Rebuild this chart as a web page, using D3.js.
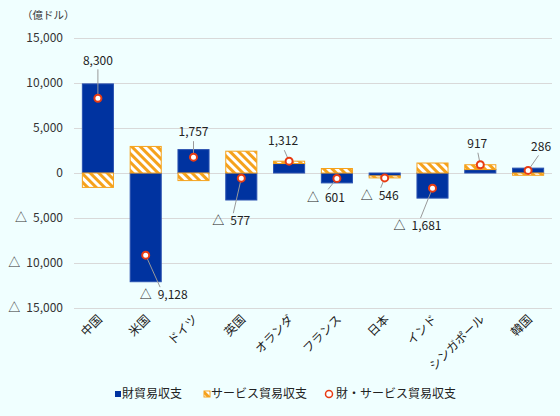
<!DOCTYPE html>
<html>
<head>
<meta charset="utf-8">
<script src="https://cdn.jsdelivr.net/npm/d3@7"></script>
<style>
  body { margin: 0; background: #f0ffff; }
  svg { display: block; font-family: "Noto Sans CJK JP", sans-serif; }
</style>
</head>
<body>
<div id="chart"></div>
<script>
// categories and values (億ドル)
const countries = ["中国", "米国", "ドイツ", "英国", "オランダ", "フランス", "日本", "インド", "シンガポール", "韓国"];
const goods    = [9900, -12080, 2600, -3000, 1050, -1100, -320, -2790, 380, 540];
const services = [-1600, 2952, -843, 2423, 262, 499, -226, 1109, 537, -254];
const totals   = [8300, -9128, 1757, -577, 1312, -601, -546, -1681, 917, 286];
const yTicks   = [15000, 10000, 5000, 0, -5000, -10000, -15000];

// label offsets from the dot (px), just layout
const labelOffsets = [[0, -38], [18, 40], [0, -25], [-10, 43], [-6, -20], [-11, 19], [-5, 18], [-15, 38], [-3, -21], [13, -24]];

const W = 560, H = 416;
const margin = { top: 38, right: 8, bottom: 108, left: 74 };

// negatives shown with a triangle, japanese style
const fmt = v => v < 0 ? "△\u2002" + d3.format(",")(-v) : d3.format(",")(v);

const svg = d3.select("#chart").append("svg")
  .attr("width", W).attr("height", H);

// hatch pattern for services
const defs = svg.append("defs");
const pat = defs.append("pattern")
  .attr("id", "hatch")
  .attr("patternUnits", "userSpaceOnUse")
  .attr("width", 6).attr("height", 6)
  .attr("patternTransform", "rotate(-45)");
pat.append("rect").attr("width", 6).attr("height", 6).attr("fill", "#fff");
pat.append("rect").attr("width", 3).attr("height", 6).attr("fill", "#f5a21c");

const x = d3.scaleBand()
  .domain(countries)
  .range([margin.left, W - margin.right])
  .paddingInner(0.35)
  .paddingOuter(0.175);

const y = d3.scaleLinear()
  .domain([-15000, 15000])
  .range([H - margin.bottom, margin.top]);

// gridlines
svg.append("g")
  .selectAll("line")
  .data(yTicks)
  .enter()
  .append("line")
  .attr("x1", margin.left)
  .attr("x2", W - margin.right)
  .attr("y1", d => y(d) + 0.5)
  .attr("y2", d => y(d) + 0.5)
  .attr("stroke", "#d9d9d9");

// y axis labels
svg.append("g")
  .selectAll("text")
  .data(yTicks)
  .enter()
  .append("text")
  .attr("x", 63)
  .attr("y", d => y(d))
  .attr("dy", "0.35em")
  .attr("text-anchor", "end")
  .style("font-size", "12px")
  .attr("fill", "#333")
  .text(fmt);

svg.append("text")
  .attr("x", 22).attr("y", 19)
  .style("font-size", "10.5px")
  .attr("fill", "#333")
  .text("（億ドル）");

// stacked data
const rows = countries.map((c, i) => ({ country: c, goods: goods[i], services: services[i] }));
const series = d3.stack()
  .keys(["goods", "services"])
  .offset(d3.stackOffsetDiverging)(rows);

const fills = { goods: "#0033a0", services: "url(#hatch)" };
const strokes = { goods: "#2a52b0", services: "#f5a21c" };

series.forEach(s => {
  svg.append("g")
    .selectAll("rect")
    .data(s)
    .enter()
    .append("rect")
    .attr("x", d => x(d.data.country))
    .attr("width", x.bandwidth())
    .attr("y", d => y(Math.max(d[0], d[1])))
    .attr("height", d => Math.abs(y(d[0]) - y(d[1])))
    .attr("fill", fills[s.key])
    .attr("stroke", strokes[s.key])
    .attr("stroke-width", 1);
});

// x labels
svg.append("g")
  .selectAll("text")
  .data(countries)
  .enter()
  .append("text")
  .attr("transform", d => `translate(${x(d) + x.bandwidth() / 2 + 5},${y(-15000) + 12}) rotate(-45)`)
  .attr("text-anchor", "end")
  .style("font-size", "12px")
  .attr("fill", "#222")
  .text(d => d);

// leader lines and labels
const cx = i => x(countries[i]) + x.bandwidth() / 2;
svg.append("g")
  .selectAll("line")
  .data(totals)
  .enter()
  .append("line")
  .attr("x1", (d, i) => cx(i))
  .attr("y1", d => y(d))
  .attr("x2", (d, i) => cx(i) + labelOffsets[i][0] * 0.8)
  .attr("y2", (d, i) => y(d) + labelOffsets[i][1] + (labelOffsets[i][1] < 0 ? 9 : -8))
  .attr("stroke", "#999")
  .attr("stroke-width", 1);

svg.append("g")
  .selectAll("text")
  .data(totals)
  .enter()
  .append("text")
  .attr("x", (d, i) => cx(i) + labelOffsets[i][0])
  .attr("y", (d, i) => y(d) + labelOffsets[i][1])
  .attr("dy", "0.35em")
  .attr("text-anchor", "middle")
  .style("font-size", "12px")
  .attr("fill", "#222")
  .text(fmt);

// total dots
svg.append("g")
  .selectAll("circle")
  .data(totals)
  .enter()
  .append("circle")
  .attr("cx", (d, i) => cx(i))
  .attr("cy", d => y(d))
  .attr("r", 3.5)
  .attr("fill", "#fff")
  .attr("stroke", "#e83b12")
  .attr("stroke-width", 2);

// legend
const legend = svg.append("g").attr("transform", "translate(0,394)");
legend.append("rect").attr("x", 115).attr("y", -3).attr("width", 6).attr("height", 6).attr("fill", "#0033a0");
legend.append("text").attr("x", 122).attr("dy", "0.35em").style("font-size", "12px").attr("fill", "#222").text("財貿易収支");
legend.append("rect").attr("x", 204).attr("y", -3).attr("width", 6).attr("height", 6)
  .attr("fill", "url(#hatch)").attr("stroke", "#f5a21c");
legend.append("text").attr("x", 211).attr("dy", "0.35em").style("font-size", "12px").attr("fill", "#222").text("サービス貿易収支");
legend.append("circle").attr("cx", 329).attr("cy", 0).attr("r", 3.5).attr("fill", "#fff")
  .attr("stroke", "#e83b12").attr("stroke-width", 1.5);
legend.append("text").attr("x", 336).attr("dy", "0.35em").style("font-size", "12px").attr("fill", "#222").text("財・サービス貿易収支");
</script>
</body>
</html>
